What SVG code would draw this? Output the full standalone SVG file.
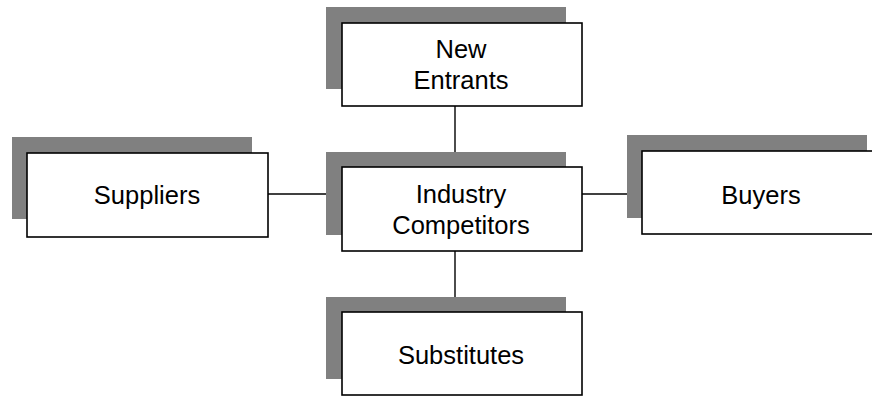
<svg xmlns="http://www.w3.org/2000/svg" width="872" height="396" viewBox="0 0 872 396">
<style>
.sh{fill:#808080;stroke:none}
.bx{fill:#ffffff;stroke:#000000;stroke-width:1.6}
.t{font-family:"Liberation Sans",Arial,sans-serif;font-size:25.5px;fill:#000000;text-anchor:middle}
.ln{stroke:#000000;stroke-width:1.4;fill:none}
</style>
<rect width="872" height="396" fill="#ffffff"/>
<g id="connectors">
<line class="ln" x1="455" y1="106" x2="455" y2="167"/>
<line class="ln" x1="455" y1="251" x2="455" y2="312"/>
<line class="ln" x1="268" y1="194" x2="335" y2="194"/>
<line class="ln" x1="574" y1="194" x2="642" y2="194"/>
</g>
<g id="new-entrants">
<rect class="sh" x="326" y="7" width="240" height="82"/>
<rect class="bx" x="342" y="23" width="240" height="83"/>
<text class="t" x="461" y="58">New</text>
<text class="t" x="461" y="89">Entrants</text>
</g>
<g id="suppliers">
<rect class="sh" x="12" y="137" width="240" height="82"/>
<rect class="bx" x="27" y="153" width="241" height="84"/>
<text class="t" x="147" y="204">Suppliers</text>
</g>
<g id="industry-competitors">
<rect class="sh" x="326" y="152" width="240" height="83"/>
<rect class="bx" x="342" y="167" width="240" height="84"/>
<text class="t" x="461" y="203">Industry</text>
<text class="t" x="461" y="234">Competitors</text>
</g>
<g id="buyers">
<rect class="sh" x="627" y="135" width="240" height="83"/>
<rect class="bx" x="642" y="151" width="240" height="83"/>
<text class="t" x="761" y="204">Buyers</text>
</g>
<g id="substitutes">
<rect class="sh" x="326" y="297" width="240" height="82"/>
<rect class="bx" x="342" y="312" width="240" height="83"/>
<text class="t" x="461" y="364">Substitutes</text>
</g>
</svg>
